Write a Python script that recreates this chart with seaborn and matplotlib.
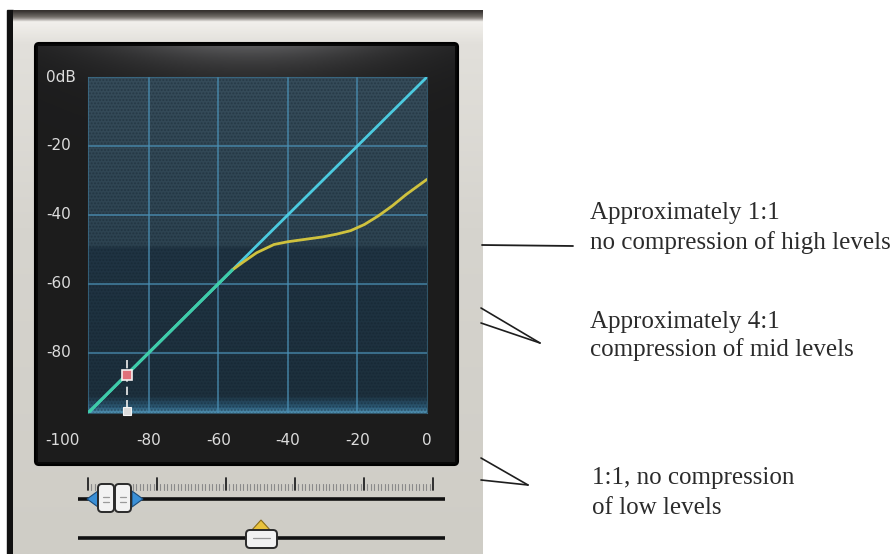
import numpy as np
import pandas as pd
import matplotlib.pyplot as plt
import matplotlib.patches as mpatches
import matplotlib.colors as mc
import seaborn as sns

W, H = 895, 554

# Compressor transfer curve (input dB -> output dB)
input_db = [-97.5, -60, -56, -53, -49, -44, -40, -35, -30, -26, -22, -18, -14, -10, -6, -3, 0]
output_db = [-97.5, -60, -56, -53.8, -51.0, -48.6, -47.8, -47.1, -46.4, -45.6, -44.6, -42.8,
             -40.3, -37.4, -34.1, -31.9, -29.7]
unity_db = [-97.5, 0]
knee_db = -56

x_ticks = [-100, -80, -60, -40, -20, 0]
y_ticks = [0, -20, -40, -60, -80]
y_tick_labels = ['0dB', '-20', '-40', '-60', '-80']
grid_db = [-80, -60, -40, -20]
threshold_db = -86.4
floor_db = -97

notes = [
    ['Approximately 1:1', 'no compression of high levels'],
    ['Approximately 4:1', 'compression of mid levels'],
    ['1:1, no compression', 'of low levels'],
]

sns.set_theme(style='dark')
plt.rcParams['font.family'] = ['DejaVu Sans']

fig = plt.figure(figsize=(W / 100, H / 100), dpi=100)
fig.patch.set_facecolor('white')

# background layer in pixel coordinates
bg = fig.add_axes([0, 0, 1, 1])
bg.set_xlim(0, W)
bg.set_ylim(H, 0)
bg.axis('off')


def vgrad(y0, y1, stops, x0, x1, z=0):
    ys = np.linspace(0, 1, 300)
    pos = [s[0] for s in stops]
    cols = np.array([mc.to_rgb(s[1]) for s in stops])
    img = np.stack([np.interp(ys, pos, cols[:, k]) for k in range(3)], axis=-1)[:, None, :]
    bg.imshow(img, extent=(x0, x1, y1, y0), aspect='auto', origin='upper', zorder=z,
              interpolation='bilinear')


# plugin panel
bg.add_patch(mpatches.Rectangle((7, 10), 6, H, color='#111111', zorder=1))
vgrad(10, H, [(0, '#36322f'), (0.012, '#77726d'), (0.02, '#f2f0ec'), (0.06, '#e2e0db'),
              (0.4, '#d6d4ce'), (1, '#cfcdc6')], 13, 483, z=1)

# black frame with glow on top
bg.add_patch(mpatches.FancyBboxPatch((35, 43), 423, 422, boxstyle='round,pad=0,rounding_size=4',
                                     fc='#080808', ec='#000000', lw=1.5, zorder=2))
gx = np.linspace(38, 455, 300)
gy = np.linspace(46, 462, 300)
GX, GY = np.meshgrid(gx, gy)
glow = 0.11 + 0.24 * np.exp(-((GX - 250) / 150) ** 2) * np.exp(-(GY - 46) / 24)
frame_img = np.stack([glow, glow, glow * 1.02], axis=-1).clip(0, 1)
bg.imshow(frame_img, extent=(38, 455, 462, 46), aspect='auto', origin='upper', zorder=3)

# plot area background
vgrad(77, 413, [(0, '#364c5a'), (0.5, '#2d4351'), (0.51, '#203443'), (0.95, '#1d303d'),
                (0.985, '#2c5a76'), (1, '#4f8fb0')], 88, 427, z=4)
bg.add_patch(mpatches.Rectangle((88, 77), 339, 336, fc='none', ec='#0f1d27', hatch='.....',
                                lw=0, alpha=0.35, zorder=5))

# sliders
tick_x = np.linspace(88, 433, 101)
for i, tx in enumerate(tick_x):
    major = i % 20 == 0
    bg.plot([tx, tx], [478 if major else 484, 490], color='#222222' if major else '#8a8a8a',
            lw=1.3 if major else 0.8, zorder=6)
bg.plot([78, 445], [499, 499], color='#111111', lw=2.6, zorder=6, solid_capstyle='butt')
bg.plot([78, 445], [538, 538], color='#111111', lw=2.6, zorder=6, solid_capstyle='butt')

bg.add_patch(mpatches.Polygon([[87, 499], [98, 491], [98, 507]], fc='#3a8fd6', ec='#1b4d7c', lw=0.8, zorder=7))
bg.add_patch(mpatches.Polygon([[143, 499], [132, 491], [132, 507]], fc='#3a8fd6', ec='#1b4d7c', lw=0.8, zorder=7))
for kx in [98, 115]:
    bg.add_patch(mpatches.FancyBboxPatch((kx, 484), 16, 28, boxstyle='round,pad=0,rounding_size=4',
                                         fc='#f2f2f2', ec='#2a2a2a', lw=1.4, zorder=8))
    bg.plot([kx + 5, kx + 11], [497, 497], color='#9a9a9a', lw=0.9, zorder=9)
    bg.plot([kx + 5, kx + 11], [502, 502], color='#9a9a9a', lw=0.9, zorder=9)

bg.add_patch(mpatches.Polygon([[261, 520], [251, 531], [271, 531]], fc='#e8c23c', ec='#8a6d1a', lw=0.8, zorder=7))
bg.add_patch(mpatches.FancyBboxPatch((246, 530), 31, 18, boxstyle='round,pad=0,rounding_size=4',
                                     fc='#f2f2f2', ec='#2a2a2a', lw=1.4, zorder=8))
bg.plot([253, 270], [538, 538], color='#9a9a9a', lw=0.9, zorder=9)

# annotation pointers
bg.plot([482, 573], [245, 246], color='#1e1e1e', lw=1.3, zorder=6)
bg.plot([481, 540], [308, 343], color='#1e1e1e', lw=1.2, zorder=6)
bg.plot([481, 540], [323, 343], color='#1e1e1e', lw=1.2, zorder=6)
bg.plot([481, 528], [458, 485], color='#1e1e1e', lw=1.2, zorder=6)
bg.plot([481, 528], [480, 485], color='#1e1e1e', lw=1.2, zorder=6)

note_pos = [(590, 213, 30), (590, 322, 28), (592, 478, 30)]
for (nx, ny, gap), lines in zip(note_pos, notes):
    for j, line in enumerate(lines):
        bg.text(nx, ny + j * gap, line, family='Liberation Serif', fontsize=18,
                color='#2b2b2b', ha='left', va='center', zorder=6)

# the transfer curve chart
ax = fig.add_axes([88 / W, 1 - 413 / H, 339 / W, 336 / H])
ax.set_facecolor('none')
ax.set_xlim(unity_db[0], 0)
ax.set_ylim(unity_db[0], 0)
ax.set_xticks(grid_db)
ax.set_yticks(grid_db)
ax.tick_params(length=0, labelbottom=False, labelleft=False)
ax.grid(True, color='#4a8fb4', lw=1.1, alpha=0.85)
for sp in ax.spines.values():
    sp.set_visible(True)
    sp.set_color('#3f7a9a')
    sp.set_linewidth(0.8)
    sp.set_alpha(0.6)

curve = pd.DataFrame({'input': input_db, 'output': output_db})
upper = curve[curve['input'] >= knee_db]
lower = curve[curve['input'] <= knee_db]

sns.lineplot(x=unity_db, y=unity_db, ax=ax, color='#4ccbe0', lw=2.0, zorder=3)
sns.lineplot(data=upper, x='input', y='output', ax=ax, color='#cfc23e', lw=2.0, sort=False,
             estimator=None, zorder=4)
sns.lineplot(data=lower, x='input', y='output', ax=ax, color='#3fcca8', lw=2.2, sort=False,
             estimator=None, zorder=4)
ax.set_xlabel('')
ax.set_ylabel('')

# threshold marker
ax.plot([threshold_db, threshold_db], [-82, floor_db], color='#f0f0f0', lw=1.2, ls=(0, (5, 3)), zorder=5)
ax.plot([threshold_db], [threshold_db], marker='s', ms=7, mfc='#e0707a', mec='#f4f0f0', mew=1.2, zorder=6)
ax.plot([threshold_db], [floor_db], marker='s', ms=6, mfc='#dcdcdc', mec='#f4f4f4', mew=0.8, zorder=6,
        clip_on=False)

# tick labels
lab = dict(color='#dcdcdc', fontsize=11, family='DejaVu Sans', clip_on=False)
for v in x_ticks:
    ax.text(v, -0.082, str(v), transform=ax.get_xaxis_transform(),
            ha='right' if v == -100 else 'center', va='center', **lab)
for v, t in zip(y_ticks, y_tick_labels):
    ax.text(-42 / 339, v, t, transform=ax.get_yaxis_transform(), ha='left', va='center', **lab)

fig.savefig('out.png', dpi=100)
